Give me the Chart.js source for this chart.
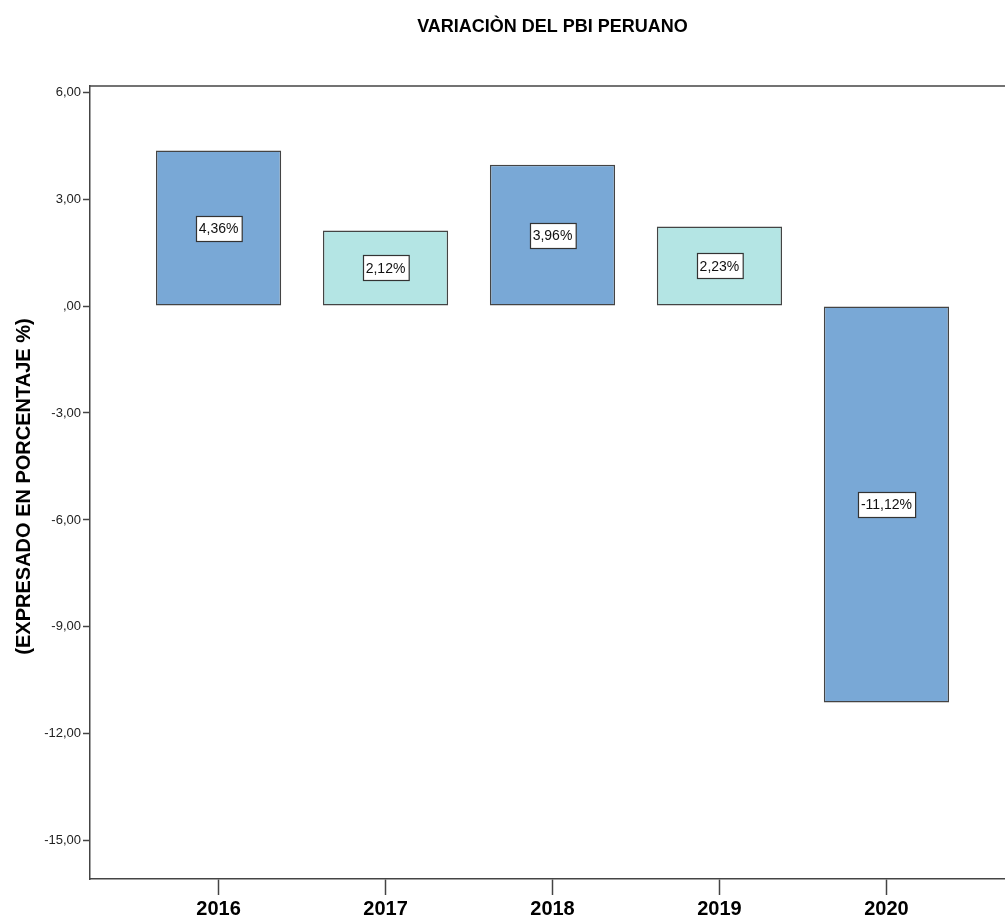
<!DOCTYPE html>
<html>
<head>
<meta charset="utf-8">
<script src="https://cdn.jsdelivr.net/npm/chart.js@4.4.0/dist/chart.umd.min.js"></script>
<style>
  html, body { margin: 0; padding: 0; background: #fff; overflow: hidden; }
  #wrap { width: 1005px; height: 919px; overflow: hidden; }
</style>
</head>
<body>
<div id="wrap"><canvas id="pbiChart" width="1030" height="919"></canvas></div>
<script>
// Data
const years = ['2016', '2017', '2018', '2019', '2020'];
const pbiVariation = [4.36, 2.12, 3.96, 2.23, -11.12];
const barColors = ['#79A8D6', '#B4E5E4', '#79A8D6', '#B4E5E4', '#79A8D6'];
const yTicks = [6, 3, 0, -3, -6, -9, -12, -15];

const chartTitle = 'VARIACIÒN DEL PBI PERUANO';
const yTitle = '(EXPRESADO EN PORCENTAJE %)';

function fmt(v) {
    if (v === 0) return ',00';
    return v.toFixed(2).replace('.', ',');
}

// Title, y axis title, top frame line and value boxes
const decorPlugin = {
    id: 'decor',
    afterDraw(chart) {
        const ctx = chart.ctx;
        const area = chart.chartArea;
        ctx.save();

        // top frame line
        ctx.strokeStyle = '#444';
        ctx.lineWidth = 1.5;
        ctx.beginPath();
        ctx.moveTo(area.left, area.top);
        ctx.lineTo(area.right, area.top);
        ctx.stroke();

        // title
        ctx.fillStyle = '#000';
        ctx.font = 'bold 18px "Liberation Sans", Arial, sans-serif';
        ctx.textAlign = 'center';
        ctx.textBaseline = 'middle';
        ctx.fillText(chartTitle, (area.left + area.right) / 2, 27);

        // y axis title
        ctx.save();
        ctx.translate(24, (area.top + area.bottom) / 2 + 4);
        ctx.rotate(-Math.PI / 2);
        ctx.font = 'bold 20px "Liberation Sans", Arial, sans-serif';
        ctx.fillText(yTitle, 0, 0);
        ctx.restore();

        // value boxes
        const meta = chart.getDatasetMeta(0);
        ctx.font = '14px "Liberation Sans", Arial, sans-serif';
        ctx.lineWidth = 1.2;
        meta.data.forEach(function(bar, i) {
            const label = fmt(pbiVariation[i]) + '%';
            const cx = bar.x;
            const cy = (bar.y + bar.base) / 2;
            const w = ctx.measureText(label).width + 6;
            const h = 25;
            const x0 = Math.round(cx - w / 2) + 0.5;
            const y0 = Math.round(cy - h / 2) + 0.5;
            ctx.fillStyle = '#fff';
            ctx.fillRect(x0, y0, w, h);
            ctx.strokeStyle = '#333';
            ctx.strokeRect(x0, y0, w, h);
            ctx.fillStyle = '#111';
            ctx.fillText(label, cx, cy + 1);
        });

        ctx.restore();
    }
};

const ctx = document.getElementById('pbiChart').getContext('2d');
const pbiChart = new Chart(ctx, {
    type: 'bar',
    data: {
        datasets: [{
            data: pbiVariation.map(function(v, i) { return { x: i, y: v }; }),
            backgroundColor: barColors,
            borderColor: '#444',
            borderWidth: 1.5,
            borderSkipped: false,
            barPercentage: 0.75,
            categoryPercentage: 1.0
        }]
    },
    options: {
        responsive: false,
        animation: false,
        events: [],
        layout: {
            padding: { top: 86, left: 0, right: 15, bottom: 0 }
        },
        plugins: {
            legend: { display: false },
            title: { display: false },
            tooltip: { enabled: false }
        },
        scales: {
            x: {
                type: 'linear',
                min: -0.77,
                max: 4.77,
                offset: false,
                afterBuildTicks: function(scale) {
                    scale.ticks = years.map(function(_, i) { return { value: i }; });
                },
                afterFit: function(scale) {
                    scale.height = 40;
                },
                grid: {
                    offset: false,
                    drawOnChartArea: false,
                    drawTicks: true,
                    tickLength: 16,
                    tickWidth: 1.5,
                    tickColor: '#444'
                },
                border: { display: true, color: '#444', width: 1.5 },
                ticks: {
                    padding: 2,
                    color: '#000',
                    font: { family: '"Liberation Sans", Arial, sans-serif', size: 20, weight: 'bold' },
                    callback: function(value) { return years[value]; }
                }
            },
            y: {
                type: 'linear',
                min: -16.07,
                max: 6.17,
                afterBuildTicks: function(scale) {
                    scale.ticks = yTicks.map(function(v) { return { value: v }; });
                },
                afterFit: function(scale) {
                    scale.width = 90;
                },
                grid: {
                    drawOnChartArea: false,
                    drawTicks: true,
                    tickLength: 7,
                    tickWidth: 1.5,
                    tickColor: '#444'
                },
                border: { display: true, color: '#444', width: 1.5 },
                ticks: {
                    padding: 2,
                    color: '#222',
                    font: { family: '"Liberation Sans", Arial, sans-serif', size: 13 },
                    callback: function(value) { return fmt(value); }
                }
            }
        }
    },
    plugins: [decorPlugin]
});
</script>
</body>
</html>
